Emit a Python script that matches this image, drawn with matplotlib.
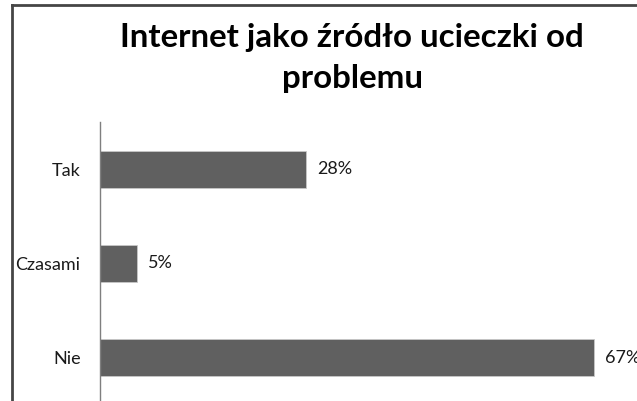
import matplotlib
matplotlib.use("Agg")
import matplotlib.pyplot as plt
from matplotlib.lines import Line2D

# Survey answers and their shares (percent)
categories = ["Tak", "Czasami", "Nie"]
values = [28, 5, 67]
value_labels = ["28%", "5%", "67%"]
title = "Internet jako źródło ucieczki od\nproblemu"

W, H = 637, 401
fig = plt.figure(figsize=(W / 100, H / 100), dpi=100)
fig.patch.set_facecolor("white")

def px_box(x0, y0, x1, y1):
    """Convert a pixel box (top-left origin) to figure fractions."""
    return [x0 / W, (H - y1) / H, (x1 - x0) / W, (y1 - y0) / H]

ax = fig.add_axes(px_box(100, 122, 637, 405))
ypos = list(range(len(categories)))
ax.barh(ypos, values, height=0.39, color="#606060", edgecolor="#c8c8c8", linewidth=0.6)
ax.set_ylim(2.5, -0.5)
ax.set_xlim(0, 537 / 7.37)

ax.set_yticks(ypos)
ax.set_yticklabels(categories, fontsize=13, family="Lato", color="#1a1a1a")
ax.tick_params(axis="y", length=0, pad=14)
ax.set_xticks([])
for s in ["top", "right", "bottom"]:
    ax.spines[s].set_visible(False)
ax.spines["left"].set_color("#7f7f7f")
ax.spines["left"].set_linewidth(1.0)

for y, v, lab in zip(ypos, values, value_labels):
    ax.annotate(lab, xy=(v, y), xytext=(8, 0), textcoords="offset points",
                ha="left", va="center", fontsize=13, family="Lato",
                color="#1a1a1a", annotation_clip=False)

fig.text(352 / W, 1 - 58 / H, title, ha="center", va="center", fontsize=23.8,
         fontweight="bold", family="Lato", color="black", linespacing=1.5)

# outer frame (left and top edges)
fig.add_artist(Line2D([12 / W, 12 / W], [0, 1 - 5 / H], transform=fig.transFigure,
                      color="#454545", linewidth=2))
fig.add_artist(Line2D([12 / W, 1], [1 - 5 / H, 1 - 5 / H], transform=fig.transFigure,
                      color="#454545", linewidth=2))

fig.savefig("out.png", dpi=100)
